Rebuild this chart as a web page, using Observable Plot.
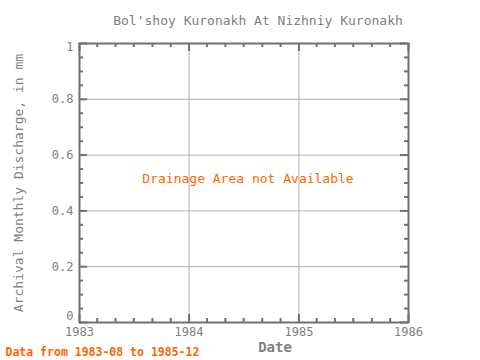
<!DOCTYPE html>
<html><head><meta charset="utf-8">
<script src="https://cdn.jsdelivr.net/npm/d3@7"></script>
<script src="https://cdn.jsdelivr.net/npm/@observablehq/plot@0.6"></script>
<style>body{margin:0;background:#fff}</style>
</head><body><div id="chart"></div>
<script>
const title = "Bol'shoy Kuronakh At Nizhniy Kuronakh";
const yLabel = "Archival Monthly Discharge, in mm";
const xLabel = "Date";
const message = "Drainage Area not Available";
const caption = "Data from 1983-08 to 1985-12";
const years = [1983, 1984, 1985, 1986];
const yTicks = [0, 0.2, 0.4, 0.6, 0.8, 1];
const yMinor = [0.05, 0.1, 0.15, 0.25, 0.3, 0.35, 0.45, 0.5, 0.55, 0.65, 0.7, 0.75, 0.85, 0.9, 0.95];

const yearDates = years.map(y => new Date(Date.UTC(y, 0, 1)));
const minorMonths = d3.utcMonth.every(2).range(yearDates[0], yearDates[yearDates.length - 1])
  .filter(d => d.getUTCMonth() !== 0);

const W = 480, H = 360, mL = 79, mR = 72, mT = 43, mB = 38;
const fw = W - mL - mR, fh = H - mT - mB;
const axisColor = "#707070", gridColor = "#b0b0b0", textColor = "#808080", orange = "#ff6600";

const chart = Plot.plot({
  width: W, height: H,
  marginLeft: mL, marginRight: mR, marginTop: mT, marginBottom: mB,
  style: {fontFamily: "'DejaVu Sans Mono', monospace", background: "#fff"},
  x: {type: "utc", domain: [yearDates[0], yearDates[yearDates.length - 1]]},
  y: {domain: [0, 1]},
  marks: [
    Plot.ruleX(yearDates.slice(1, -1), {stroke: gridColor, strokeWidth: 1}),
    Plot.ruleY(yTicks.slice(1, -1), {stroke: gridColor, strokeWidth: 1}),
    Plot.ruleX(minorMonths, {stroke: axisColor, strokeWidth: 2, insetTop: fh - 4}),
    Plot.ruleX(minorMonths, {stroke: axisColor, strokeWidth: 2, insetBottom: fh - 4}),
    Plot.ruleX(yearDates, {stroke: axisColor, strokeWidth: 2, insetTop: fh - 8}),
    Plot.ruleX(yearDates, {stroke: axisColor, strokeWidth: 2, insetBottom: fh - 8}),
    Plot.ruleY(yMinor, {stroke: axisColor, strokeWidth: 2, insetRight: fw - 4}),
    Plot.ruleY(yMinor, {stroke: axisColor, strokeWidth: 2, insetLeft: fw - 4}),
    Plot.ruleY(yTicks, {stroke: axisColor, strokeWidth: 2, insetRight: fw - 8}),
    Plot.ruleY(yTicks, {stroke: axisColor, strokeWidth: 2, insetLeft: fw - 8}),
    Plot.frame({stroke: axisColor, strokeWidth: 2}),
    Plot.axisX(yearDates, {tickSize: 0, tickPadding: 5, tickFormat: d3.utcFormat("%Y"), fontSize: 12, fill: textColor, label: null}),
    Plot.axisY(yTicks.slice(1, -1), {tickSize: 0, tickPadding: 6, tickFormat: d => String(d), fontSize: 12, fill: textColor, label: null}),
    Plot.axisY([yTicks[0]], {tickSize: 0, tickPadding: 6, tickFormat: d => String(d), fontSize: 12, fill: textColor, label: null, dy: -6}),
    Plot.axisY([yTicks[yTicks.length - 1]], {tickSize: 0, tickPadding: 6, tickFormat: d => String(d), fontSize: 12, fill: textColor, label: null, dy: 4}),
    Plot.text([title], {frameAnchor: "top", dx: 14, dy: -28, fontSize: 13, fill: textColor}),
    Plot.text([yLabel], {frameAnchor: "left", textAnchor: "middle", dx: -61, rotate: -90, fontSize: 13, fill: textColor}),
    Plot.text([xLabel], {frameAnchor: "bottom", dx: 31, dy: 29, fontSize: 14, fontWeight: "bold", fill: textColor}),
    Plot.text([message], {frameAnchor: "middle", dx: 4, dy: -4, fontSize: 13, fill: orange}),
    Plot.text([caption], {frameAnchor: "bottom-left", dx: -74, dy: 33, textAnchor: "start", fontSize: 11.5, fontWeight: "bold", fill: orange})
  ]
});
document.getElementById("chart").appendChild(chart);
</script>
</body></html>
